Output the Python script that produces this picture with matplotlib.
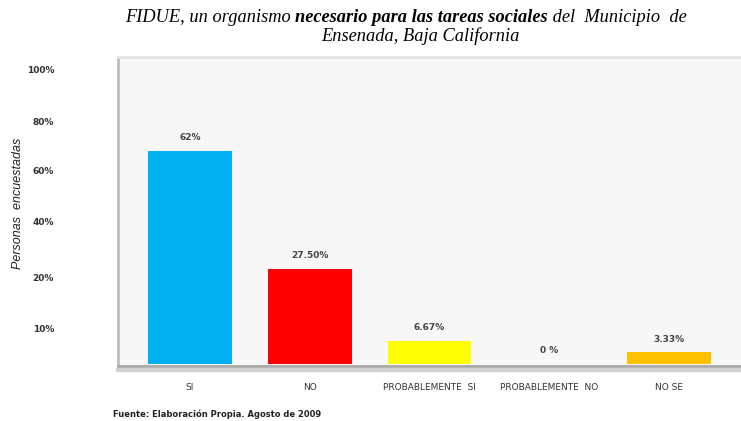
import matplotlib.pyplot as plt
from matplotlib.patches import Rectangle

# data
categorias = ["SI", "NO", "PROBABLEMENTE  SI", "PROBABLEMENTE  NO", "NO SE"]
valores = [62, 27.5, 6.67, 0, 3.33]
etiquetas = ["62%", "27.50%", "6.67%", "0 %", "3.33%"]
colores = ["#00b0f0", "#ff0000", "#ffff00", "#ffff00", "#ffc000"]

# the original axis labels are not on a linear scale, keep them where they sit
tick_pos = [10.2, 25.0, 41.3, 56.1, 70.6, 85.5]
tick_lab = ["10%", "20%", "40%", "60%", "80%", "100%"]

fig = plt.figure(figsize=(7.41, 4.21), dpi=100)
ax = fig.add_axes([118/741, 1 - 366/421, 1 - 118/741, (366 - 57)/421])
ax.set_facecolor("#f7f7f7")

x = list(range(len(categorias)))
ax.bar(x, valores, width=0.7, color=colores, zorder=2)
for xi, v, t in zip(x, valores, etiquetas):
    ax.text(xi, v + 2.6, t, ha="center", va="bottom", fontsize=6.5,
            color="#444444", fontweight="bold", family="DejaVu Sans")

ax.set_xlim(-0.6, 4.6)
ax.set_ylim(-0.6, 89.2)
ax.set_xticks(x)
ax.set_xticklabels(categorias, fontsize=6.5, color="#333333")
ax.set_yticks(tick_pos)
ax.set_yticklabels(tick_lab, fontsize=6.5, color="#333333", fontweight="bold")
ax.tick_params(axis="both", length=0)
ax.tick_params(axis="y", pad=46)
ax.tick_params(axis="x", pad=12)

ax.spines["right"].set_visible(False)
ax.spines["top"].set_color("#e6e6e6")
ax.spines["top"].set_linewidth(2)
ax.spines["left"].set_color("#bdbdbd")
ax.spines["left"].set_linewidth(2)
ax.spines["bottom"].set_color("#a8a8a8")
ax.spines["bottom"].set_linewidth(2)

# shadow under the plot frame
fig.patches.append(Rectangle((116/741, 1 - 371/421), 1, 3/421, transform=fig.transFigure,
                             color="#d0d0d0", zorder=0))

fig.text(18/741, 1 - 203/421, "Personas  encuestadas", fontsize=9, style="italic",
         family=["Liberation Sans", "DejaVu Sans"], rotation=90,
         ha="center", va="center", color="#222222")

# title, mixed italic and bold italic
serif = ["Liberation Serif", "DejaVu Serif"]
piezas = [("FIDUE, un organismo ", "normal"),
          ("necesario para las tareas sociales", "bold"),
          (" del  Municipio  de", "normal")]
fs = 13.2
prev = fig.text(125/741, 1 - 18/421, piezas[0][0], fontsize=fs, style="italic",
                family=serif, va="center")
for texto, peso in piezas[1:]:
    prev = ax.annotate(texto, xy=(1, 0.5), xycoords=prev, va="center",
                       fontsize=fs, style="italic", fontweight=peso,
                       family=serif, annotation_clip=False)
fig.text(420/741, 1 - 36/421, "Ensenada, Baja California", fontsize=fs,
         style="italic", family=serif, ha="center", va="center")

fig.text(113/741, 1 - 414/421, "Fuente: Elaboración Propia. Agosto de 2009",
         fontsize=6, fontweight="bold", color="#222222", va="center")

fig.savefig("out.png", dpi=100)
